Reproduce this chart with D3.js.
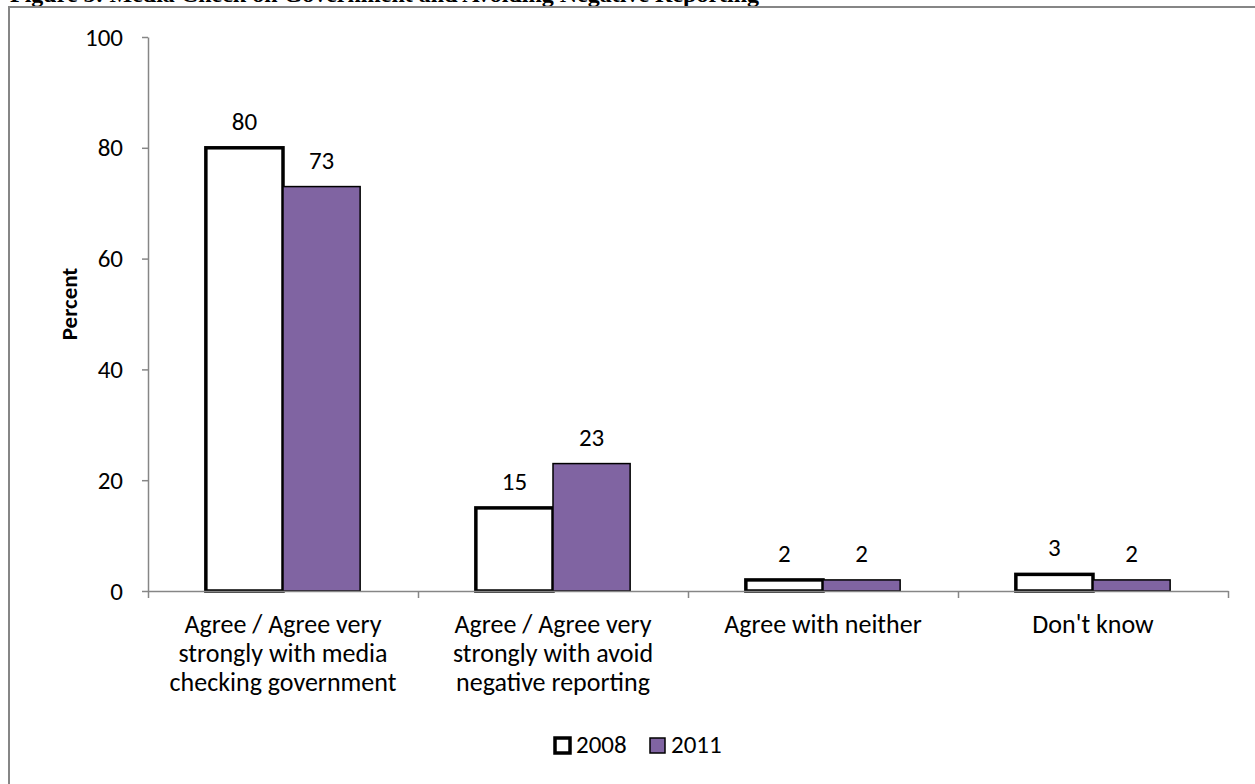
<!DOCTYPE html>
<html>
<head>
<meta charset="utf-8">
<script src="https://cdn.jsdelivr.net/npm/d3@7"></script>
<style>
  body { margin: 0; background: #fff; }
  svg { display: block; }
  text { font-family: Calibri, Carlito, Lato, sans-serif; fill: #000; }
</style>
</head>
<body>
<svg></svg>
<script>
// data
const categories = [
  "Agree / Agree very strongly with media checking government",
  "Agree / Agree very strongly with avoid negative reporting",
  "Agree with neither",
  "Don't know"
];
const categoryLines = [
  ["Agree / Agree very", "strongly with media", "checking government"],
  ["Agree / Agree very", "strongly with avoid", "negative reporting"],
  ["Agree with neither"],
  ["Don't know"]
];
const series = ["2008", "2011"];
const values2008 = [80, 15, 2, 3];
const values2011 = [73, 23, 2, 2];
const yTicks = [0, 20, 40, 60, 80, 100];
const title = "Figure 5: Media Check on Government and Avoiding Negative Reporting";

const width = 1255;
const height = 784;
const fontSize = 25;

const colors = { "2008": "#ffffff", "2011": "#8064a2" };
const strokeW = { "2008": 3.5, "2011": 1.5 };

const svg = d3.select("svg").attr("width", width).attr("height", height);

// title, clipped at the top edge as in the source
svg.append("text")
  .attr("x", 10)
  .attr("y", 1.5)
  .style("font-family", "'Liberation Serif', 'Times New Roman', serif")
  .style("font-weight", "bold")
  .style("font-size", "24px")
  .text(title);

// chart frame
svg.append("rect")
  .attr("x", 9)
  .attr("y", 7)
  .attr("width", 1300)
  .attr("height", 900)
  .attr("fill", "white")
  .attr("stroke", "#868686")
  .attr("stroke-width", 2);

const plotLeft = 148, plotRight = 1228, plotTop = 37, plotBottom = 591;

const y = d3.scaleLinear().domain([0, 100]).range([plotBottom, plotTop]);
const x0 = d3.scaleBand().domain(categories).range([plotLeft, plotRight]).padding(0);
const x1 = d3.scaleBand().domain(series).range([0, x0.bandwidth()])
  .paddingInner(0).paddingOuter(0.75);
const xEdges = d3.scaleLinear().domain([0, categories.length]).range([plotLeft, plotRight]);

// y axis
const yAxis = svg.append("g")
  .attr("transform", `translate(${plotLeft},0)`)
  .call(d3.axisLeft(y).tickValues(yTicks).tickSize(6).tickPadding(19).tickSizeOuter(0));
yAxis.select(".domain").attr("stroke", "#868686").attr("stroke-width", 1.5);
yAxis.selectAll(".tick line").attr("stroke", "#868686").attr("stroke-width", 1.5);
yAxis.selectAll(".tick text")
  .style("font-family", "Calibri, Carlito, Lato, sans-serif")
  .style("font-size", fontSize + "px")
  .attr("fill", "#000");

// bars
const rows = categories.map((c, i) => ({ cat: c, vals: [values2008[i], values2011[i]] }));
const groups = svg.append("g")
  .selectAll("g")
  .data(rows)
  .join("g")
  .attr("transform", d => `translate(${x0(d.cat)},0)`);

groups.selectAll("rect")
  .data(d => series.map((s, j) => ({ s: s, v: d.vals[j] })))
  .join("rect")
  .attr("x", d => x1(d.s))
  .attr("y", d => y(d.v))
  .attr("width", x1.bandwidth())
  .attr("height", d => y(0) - y(d.v))
  .attr("fill", d => colors[d.s])
  .attr("stroke", "#000")
  .attr("stroke-width", d => strokeW[d.s]);

// x axis, ticks sit on the category edges
const xAxis = svg.append("g")
  .attr("transform", `translate(0,${plotBottom})`)
  .call(d3.axisBottom(xEdges).ticks(categories.length).tickFormat("").tickSize(7).tickSizeOuter(0));
xAxis.select(".domain").attr("stroke", "#868686").attr("stroke-width", 1.5);
xAxis.selectAll(".tick line").attr("stroke", "#868686").attr("stroke-width", 1.5);

// value labels
groups.selectAll("text.val")
  .data(d => series.map((s, j) => ({ s: s, v: d.vals[j] })))
  .join("text")
  .attr("class", "val")
  .attr("x", d => x1(d.s) + x1.bandwidth() / 2)
  .attr("y", d => y(d.v) - 18)
  .attr("text-anchor", "middle")
  .style("font-size", fontSize + "px")
  .text(d => d.v);

// category labels
const catLabels = svg.append("g")
  .selectAll("text")
  .data(categories)
  .join("text")
  .attr("x", d => x0(d) + x0.bandwidth() / 2)
  .attr("y", 633)
  .attr("text-anchor", "middle")
  .style("font-size", "26px");
catLabels.each(function(d, i) {
  d3.select(this).selectAll("tspan")
    .data(categoryLines[i])
    .join("tspan")
    .attr("x", x0(d) + x0.bandwidth() / 2)
    .attr("dy", (t, k) => k === 0 ? 0 : 29)
    .text(t => t);
});

// y axis title
svg.append("text")
  .attr("transform", "translate(77,304) rotate(-90)")
  .attr("text-anchor", "middle")
  .style("font-size", "23px")
  .style("font-weight", "bold")
  .text("Percent");

// legend
const legend = svg.append("g").attr("transform", "translate(554,737)");
const legendX = [0, 95];
series.forEach((s, j) => {
  const g = legend.append("g").attr("transform", `translate(${legendX[j]},0)`);
  g.append("rect")
    .attr("x", 1)
    .attr("y", 1)
    .attr("width", 15)
    .attr("height", 15)
    .attr("fill", colors[s])
    .attr("stroke", "#000")
    .attr("stroke-width", strokeW[s]);
  g.append("text")
    .attr("x", 22)
    .attr("y", 16)
    .style("font-size", fontSize + "px")
    .text(s);
});
</script>
</body>
</html>
